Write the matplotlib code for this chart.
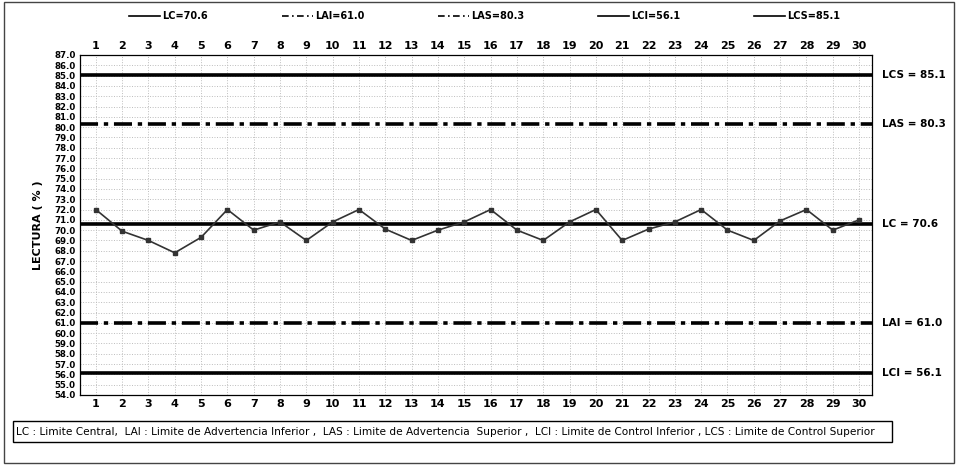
import numpy as np
import matplotlib
matplotlib.use("Agg")
import matplotlib.pyplot as plt
from matplotlib.lines import Line2D
from matplotlib.patches import Rectangle

# sample number and reading (%)
muestras = list(range(1, 31))
lectura = [72.0, 69.9, 69.0, 67.8, 69.3, 72.0, 70.0, 70.8, 69.0, 70.8,
           72.0, 70.1, 69.0, 70.0, 70.8, 72.0, 70.0, 69.0, 70.8, 72.0,
           69.0, 70.1, 70.8, 72.0, 70.0, 69.0, 70.9, 72.0, 70.0, 71.0]

# control limits
limites = ["LCS", "LAS", "LC", "LAI", "LCI"]
valores = [85.1, 80.3, 70.6, 61.0, 56.1]
y_ticks = np.arange(54.0, 87.5, 1.0)

dashdot = (0, (5, 1.6, 1.2, 1.6))
estilos = {"LCS": "-", "LAS": dashdot, "LC": "-", "LAI": dashdot, "LCI": "-"}

fig = plt.figure(figsize=(9.58, 4.68), dpi=100)
ax = fig.add_axes([0.0835, 0.156, 0.827, 0.7265])

# dotted grid
ax.set_xticks(muestras)
ax.set_yticks(y_ticks)
ax.grid(True, color="#bdbdbd", linestyle=":", linewidth=0.7)

for nombre, v in zip(limites, valores):
    ax.axhline(v, color="black", lw=2.6, linestyle=estilos[nombre])
    lbl = f"{nombre} = {v:.1f}"
    ax.text(1.012, v, lbl, transform=ax.get_yaxis_transform(),
            va="center", ha="left", fontsize=7.5, fontweight="bold")

ax.plot(muestras, lectura, color="#333333", lw=1.2, marker="s", ms=2.5)

ax.set_xlim(0.4, 30.5)
ax.set_ylim(54.0, 87.0)
ax.tick_params(axis="x", top=True, labeltop=True, length=0, labelsize=8, pad=3)
ax.tick_params(axis="y", length=0, labelsize=6.2, pad=3)
for lab in ax.get_xticklabels() + ax.get_yticklabels():
    lab.set_fontweight("bold")
ax.set_yticklabels([f"{t:.1f}" for t in y_ticks])
for s in ax.spines.values():
    s.set_linewidth(0.9)
ax.set_ylabel("LECTURA ( % )", fontsize=8, fontweight="bold", labelpad=8)

# legend across the top
handles = [
    Line2D([], [], color="black", lw=1.2, linestyle="-"),
    Line2D([], [], color="black", lw=1.2, linestyle=(0, (4, 2, 1, 2))),
    Line2D([], [], color="black", lw=1.2, linestyle=(0, (4, 2, 1, 2))),
    Line2D([], [], color="black", lw=1.2, linestyle="-"),
    Line2D([], [], color="black", lw=1.2, linestyle="-"),
]
etiquetas = ["LC=70.6", "LAI=61.0", "LAS=80.3", "LCI=56.1", "LCS=85.1"]
leg = fig.legend(handles, etiquetas, ncol=5, loc="center",
                 bbox_to_anchor=(0.506, 0.965), frameon=False,
                 handlelength=3.2, handletextpad=0.2, columnspacing=7.6,
                 prop={"size": 7, "weight": "bold"})

# footnote box
fig.add_artist(Rectangle((0.0135, 0.055), 0.918, 0.045, transform=fig.transFigure,
                         fill=False, lw=1.0, color="black"))
fig.text(0.017, 0.077,
         "LC : Limite Central,  LAI : Limite de Advertencia Inferior ,  LAS : Limite de Advertencia  Superior ,  "
         "LCI : Limite de Control Inferior , LCS : Limite de Control Superior",
         fontsize=7.6, va="center", ha="left")

# outer frame
fig.add_artist(Rectangle((0.004, 0.01), 0.992, 0.985, transform=fig.transFigure,
                         fill=False, lw=1.0, color="#444444"))

fig.savefig("out.png", dpi=100)
